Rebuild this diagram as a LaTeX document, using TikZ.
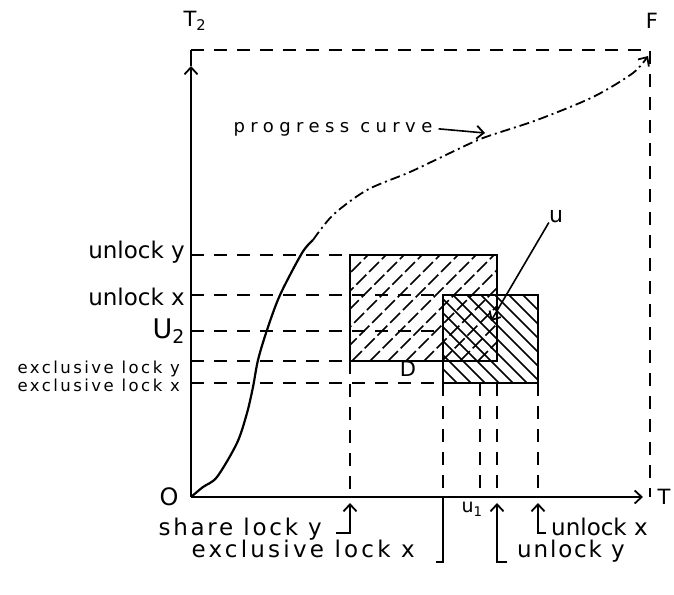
\documentclass[tikz,border=0pt]{standalone}
\usepackage{fontspec}
\setmainfont{DejaVu Sans}
\usetikzlibrary{arrows.meta}

\begin{document}
\begin{tikzpicture}[x=1pt,y=-1pt,
  lbl/.style={inner sep=0pt, font=\fontsize{23}{23}\selectfont},
  small/.style={inner sep=0pt, font=\fontsize{16.5}{16.5}\selectfont\addfontfeature{LetterSpace=15}},
  dashln/.style={line width=2pt, dash pattern=on 13pt off 10pt},
  axis/.style={line width=2.2pt},
  barb/.style={-{Straight Barb[length=7pt,width=13pt,line width=1.8pt]}},
  hatchup/.style={line width=1.6pt, dash pattern=on 14pt off 4pt},
  hatchdn/.style={line width=1.6pt}]
\useasboundingbox (0,0) rectangle (674,594);

% frame of the schedule
\coordinate (O) at (191,497);
\coordinate (Ytop) at (191,50);
\coordinate (Yarr) at (191,66);
\coordinate (F) at (650,50);
\coordinate (Xarr) at (643,497);
\coordinate (Xend) at (650,497);

% lock rectangles for y and x
\coordinate (ry1) at (350,255); \coordinate (ry2) at (497,361);
\coordinate (rx1) at (443,295); \coordinate (rx2) at (538,383);

\begin{scope}
  \clip (ry1) rectangle (ry2);
  \foreach \x in {244,262,...,500}
    \draw[hatchup] (\x,361) -- ++(106,-106);
\end{scope}
\begin{scope}
  \clip (rx1) rectangle (rx2);
  \foreach \x in {355,369,...,540}
    \draw[hatchdn] (\x,295) -- ++(88,88);
\end{scope}
\draw[axis] (ry1) rectangle (ry2);
\draw[axis] (rx1) rectangle (rx2);

% axes
\draw[axis,barb] (O) -- (Yarr);
\draw[axis] (Yarr) -- (Ytop);
\draw[axis,barb] (O) -- (Xarr);
\draw[dashln] (Ytop) -- (F) -- (Xend);

\node[lbl, font=\fontsize{21}{21}\selectfont] (T2) at (195,21) {T\textsubscript{2}};
\node[lbl, font=\fontsize{21}{21}\selectfont] (Fl) at (652,21) {F};
\node[lbl, font=\fontsize{24}{24}\selectfont] (Ol) at (169,497) {O};
\node[lbl, font=\fontsize{21}{21}\selectfont] (Tl) at (664,497) {T};
\node[lbl, font=\fontsize{21}{21}\selectfont] (Dl) at (408,369) {D};

% levels on the T2 axis
\coordinate (yUY) at (O |- ry1);
\coordinate (yUX) at (O |- rx1);
\coordinate (yU2) at (191,331);
\coordinate (yEY) at (O |- ry2);
\coordinate (yEX) at (O |- rx2);
\draw[dashln] (yUY) -- (ry1);
\draw[dashln] (yUX) -- (rx1);
\draw[dashln] (yU2) -- (rx1 |- yU2);
\draw[dashln] (yEY) -- (rx1 |- yEY);
\draw[dashln] (yEX) -- (rx1 |- yEX);

\node[lbl, anchor=base east] (lUY) at (185,258) {unlock y};
\node[lbl, anchor=base east] (lUX) at (185,305) {unlock x};
\node[lbl, anchor=base east, font=\fontsize{27}{27}\selectfont] (lU2) at (185,338) {U\textsubscript{2}};
\node[small, anchor=base east] (lEY) at (180,373) {exclusive lock y};
\node[small, anchor=base east] (lEX) at (180,391) {exclusive lock x};

% levels on the T axis
\coordinate (xSL) at (O -| ry1);
\coordinate (xEX) at (O -| rx1);
\coordinate (xU1) at (480,497);
\coordinate (xUY) at (O -| ry2);
\coordinate (xUX) at (O -| rx2);
\draw[dashln] (ry1 |- ry2) -- (xSL);
\draw[dashln] (rx1 |- rx2) -- (xEX);
\draw[dashln] (xU1 |- rx2) -- (xU1);
\draw[dashln] (xUY |- rx2) -- (xUY);
\draw[dashln] (rx2) -- (xUX);

\node[lbl, font=\fontsize{19}{19}\selectfont] (lU1) at (472,509) {u\textsubscript{1}};

\coordinate (hSL) at (350,533);
\coordinate (hEX) at (443,562);
\coordinate (hUY) at (497,562);
\coordinate (hUX) at (538,533);
\node[lbl, anchor=base east, font=\fontsize{23}{23}\selectfont\addfontfeature{LetterSpace=12}] (lSL) at (322,535) {share lock y};
\node[lbl, anchor=base east, font=\fontsize{23}{23}\selectfont\addfontfeature{LetterSpace=14}] (lEXb) at (415,557) {exclusive lock x};
\node[lbl, anchor=base west, font=\fontsize{23}{23}\selectfont\addfontfeature{LetterSpace=8}] (lUYb) at (517,557) {unlock y};
\node[lbl, anchor=base west] (lUXb) at (551,535) {unlock x};
\draw[axis,barb] ([xshift=-14pt]hSL) -- (hSL) -- ([yshift=-6pt]xSL);
\draw[axis] ([xshift=-7pt]hEX) -- (hEX) -- (xEX);
\draw[axis,barb] ([xshift=10pt]hUY) -- (hUY) -- ([yshift=-6pt]xUY);
\draw[axis,barb] ([xshift=8pt]hUX) -- (hUX) -- ([yshift=-6pt]xUX);

% progress curve
\draw[axis] plot[smooth] coordinates {(O) (203,487) (217,477) (237,443) (247,413) (253,387) (258,360) (267,330) (280,295) (302,253) (313,240)};
\draw[line width=1.8pt, dash pattern=on 10pt off 4pt on 2pt off 4pt, barb] plot[smooth] coordinates {(313,240) (333,215) (367,190) (410,172) (450,153) (483,138) (537,120) (593,97) (633,73) (648,56)};

\node[lbl, anchor=base, font=\fontsize{18}{18}\selectfont\addfontfeature{LetterSpace=30}] (pc) at (333,132) {progress curve};
\coordinate (pcTip) at (485,133);
\draw[line width=1.6pt, barb] ([xshift=6pt]pc.east) -- (pcTip);

\node[lbl, font=\fontsize{22}{22}\selectfont] (ul) at (556,216) {u};
\coordinate (uTip) at (491,321);
\draw[line width=1.6pt, barb] (ul.south west) -- (uTip);
\end{tikzpicture}
\end{document}
